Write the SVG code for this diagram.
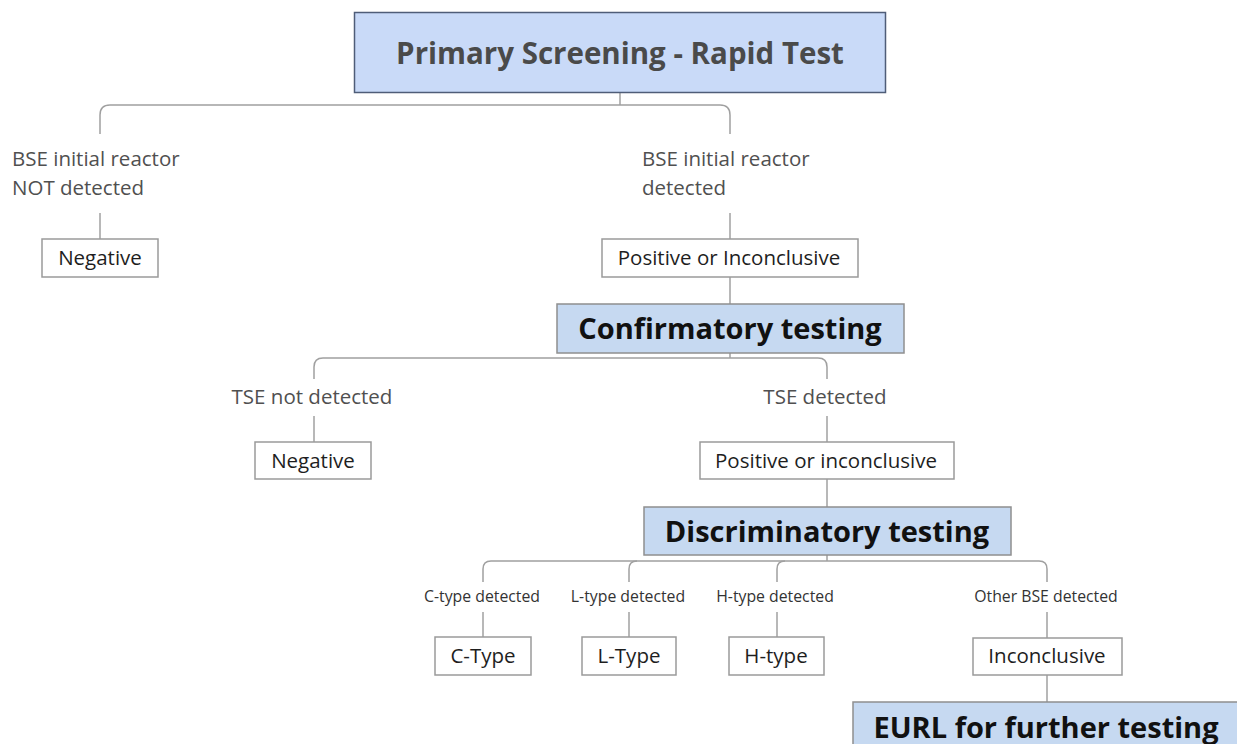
<svg xmlns="http://www.w3.org/2000/svg" width="1237" height="744" viewBox="0 0 1237 744">
<style>
  .conn { fill: none; stroke: #a0a0a0; stroke-width: 1.5; }
  .box { fill: #ffffff; stroke: #9a9a9a; stroke-width: 1.5; }
  .hdr { fill: #c6d9f1; stroke: #8f8f8f; stroke-width: 1.5; }
  .top { fill: #c9daf8; stroke: #4f5d78; stroke-width: 1.5; }
  .lbl { font-family: "Open Sans", "Liberation Sans", sans-serif; font-size: 20.5px; fill: #505050; }
  .slbl { font-family: "Open Sans", "Liberation Sans", sans-serif; font-size: 15.8px; fill: #333333; text-anchor: middle; }
  .btxt { font-family: "Open Sans", "Liberation Sans", sans-serif; font-size: 20.5px; fill: #1e1e1e; text-anchor: middle; }
  .htxt { font-family: "Open Sans", "Liberation Sans", sans-serif; font-weight: bold; fill: #111111; text-anchor: middle; }
</style>
<rect width="1237" height="744" fill="#ffffff"/>
<g id="connectors">
  <path class="conn" d="M620,93 V105"/>
  <path class="conn" d="M100,134 V115 Q100,105 110,105 H720 Q730,105 730,115 V134"/>
  <path class="conn" d="M100,213 V239"/>
  <path class="conn" d="M730,213 V239"/>
  <path class="conn" d="M730,277 V304"/>
  <path class="conn" d="M730,353 V358"/>
  <path class="conn" d="M314,379 V367 Q314,358 323,358 H818 Q827,358 827,367 V379"/>
  <path class="conn" d="M314,416 V442"/>
  <path class="conn" d="M827,416 V442"/>
  <path class="conn" d="M827,479 V507"/>
  <path class="conn" d="M827,555 V561"/>
  <path class="conn" d="M483,582 V569 Q483,561 491,561 H1039 Q1047,561 1047,569 V582"/>
  <path class="conn" d="M629,582 V569 Q629,561 637,561"/>
  <path class="conn" d="M777,582 V569 Q777,561 785,561"/>
  <path class="conn" d="M483,612 V637"/>
  <path class="conn" d="M629,612 V637"/>
  <path class="conn" d="M777,612 V637"/>
  <path class="conn" d="M1047,612 V638"/>
  <path class="conn" d="M1047,675 V702"/>
</g>
<g id="primary">
  <rect class="top" x="354.5" y="12.5" width="531" height="80"/>
  <text class="htxt" x="620" y="64" font-size="29.5" style="fill:#4a4a4a">Primary Screening - Rapid Test</text>
</g>
<g id="label-not-detected">
  <text class="lbl" x="12" y="166">BSE initial reactor</text>
  <text class="lbl" x="12" y="195">NOT detected</text>
</g>
<g id="label-detected">
  <text class="lbl" x="642" y="166">BSE initial reactor</text>
  <text class="lbl" x="642" y="195">detected</text>
</g>
<g id="negative1">
  <rect class="box" x="42" y="239" width="116" height="38"/>
  <text class="btxt" x="100" y="265">Negative</text>
</g>
<g id="positive1">
  <rect class="box" x="602" y="239" width="256" height="38"/>
  <text class="btxt" x="729" y="265">Positive or Inconclusive</text>
</g>
<g id="confirmatory">
  <rect class="hdr" x="557" y="304" width="347" height="49"/>
  <text class="htxt" x="730" y="339" font-size="29">Confirmatory testing</text>
</g>
<g id="label-tse-not">
  <text class="lbl" x="312" y="404" text-anchor="middle">TSE not detected</text>
</g>
<g id="label-tse">
  <text class="lbl" x="825" y="404" text-anchor="middle">TSE detected</text>
</g>
<g id="negative2">
  <rect class="box" x="255" y="442" width="116" height="37"/>
  <text class="btxt" x="313" y="468">Negative</text>
</g>
<g id="positive2">
  <rect class="box" x="700" y="442" width="254" height="37"/>
  <text class="btxt" x="826" y="468">Positive or inconclusive</text>
</g>
<g id="discriminatory">
  <rect class="hdr" x="644" y="507" width="367" height="48"/>
  <text class="htxt" x="827" y="542" font-size="29">Discriminatory testing</text>
</g>
<g id="label-c">
  <text class="slbl" x="482" y="602">C-type detected</text>
</g>
<g id="label-l">
  <text class="slbl" x="628" y="602">L-type detected</text>
</g>
<g id="label-h">
  <text class="slbl" x="775" y="602">H-type detected</text>
</g>
<g id="label-other">
  <text class="slbl" x="1046" y="602">Other BSE detected</text>
</g>
<g id="ctype">
  <rect class="box" x="435" y="637" width="96" height="38"/>
  <text class="btxt" x="483" y="663">C-Type</text>
</g>
<g id="ltype">
  <rect class="box" x="582" y="637" width="94" height="38"/>
  <text class="btxt" x="629" y="663">L-Type</text>
</g>
<g id="htype">
  <rect class="box" x="729" y="637" width="95" height="38"/>
  <text class="btxt" x="776" y="663">H-type</text>
</g>
<g id="inconclusive">
  <rect class="box" x="973" y="638" width="149" height="37"/>
  <text class="btxt" x="1047" y="663">Inconclusive</text>
</g>
<g id="eurl">
  <rect class="hdr" x="853" y="702" width="400" height="60"/>
  <text class="htxt" x="1046" y="738" font-size="29">EURL for further testing</text>
</g>
</svg>
